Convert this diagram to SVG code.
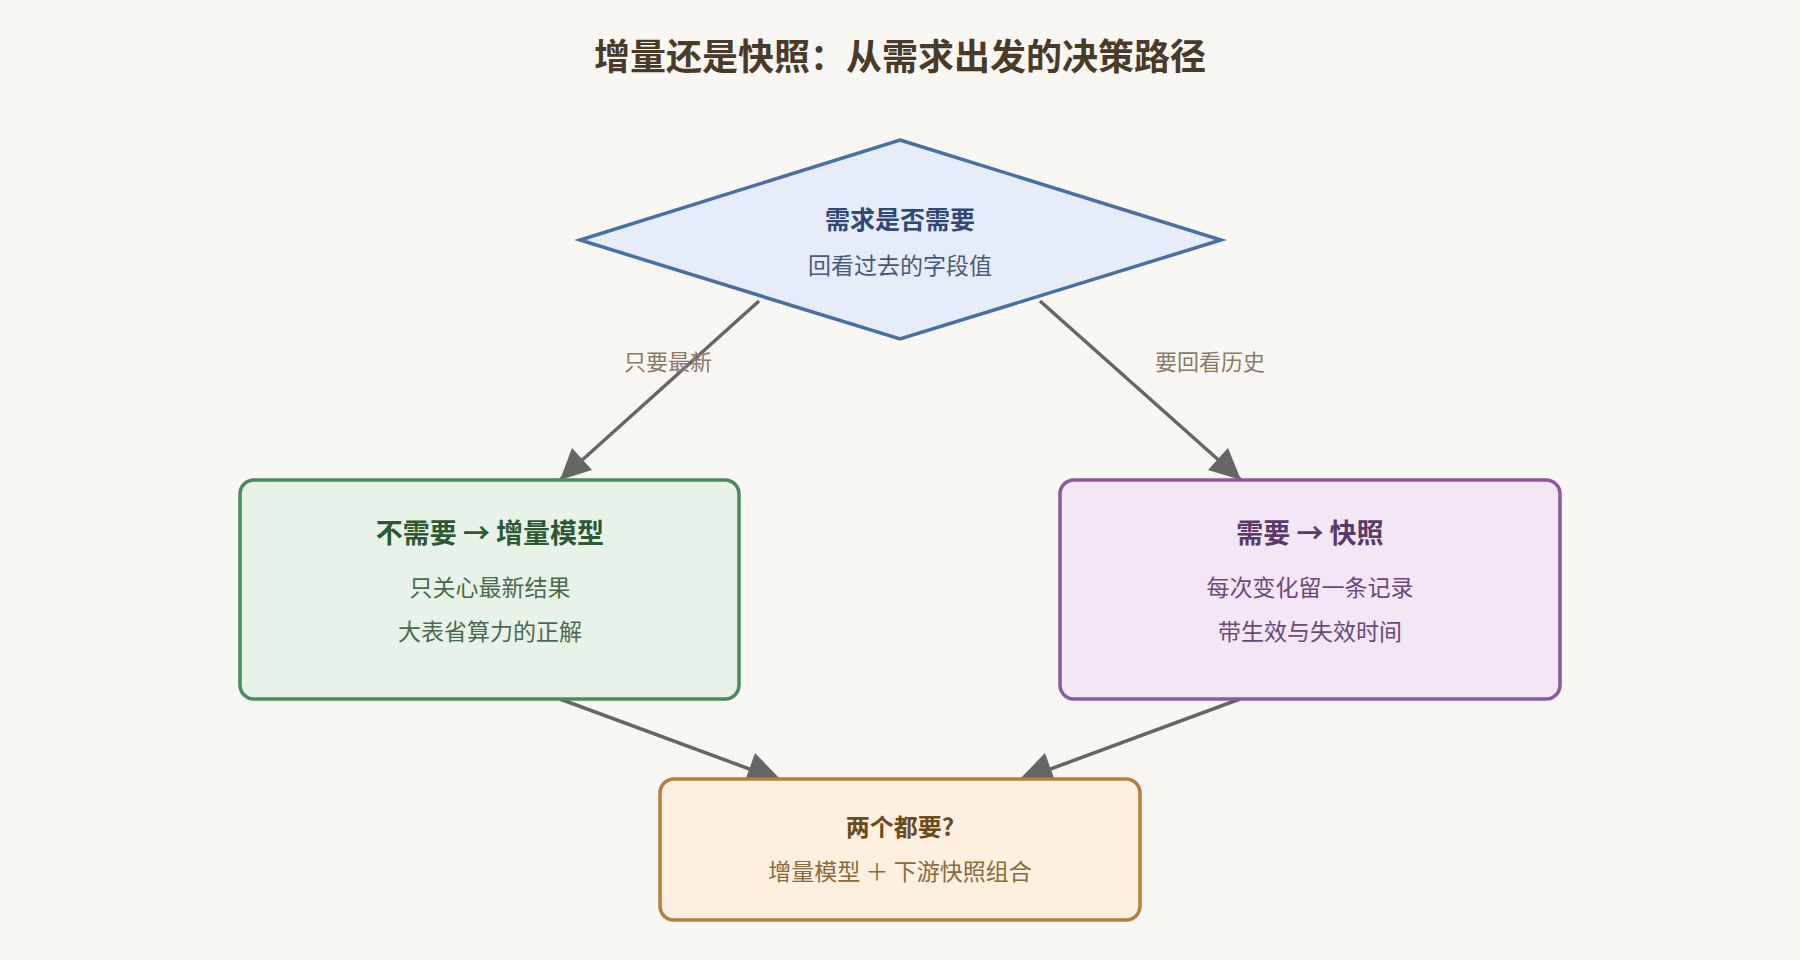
<svg xmlns="http://www.w3.org/2000/svg" width="1800" height="960" viewBox="0 0 1800 960">
<defs>
<style>
text{font-family:"Noto Sans CJK SC","Noto Sans",sans-serif;text-anchor:middle}
.t{font-size:36px;font-weight:bold;fill:#4a3a28}
.h{font-size:27px;font-weight:bold}
.s{font-size:23px}
.lbl{font-size:22px;fill:#8a7a68}
.c{stroke:#666;stroke-width:3.5;fill:none;marker-end:url(#ah)}
</style>
<marker id="ah" viewBox="0 0 10 10" refX="9" refY="5" markerWidth="11" markerHeight="11" markerUnits="userSpaceOnUse" orient="auto"><path d="M0,0 L10,5 L0,10 z" fill="#666"/></marker>
<marker id="ah" viewBox="0 0 10 10" refX="9" refY="5" markerWidth="11" markerHeight="11" orient="auto"><path d="M0,0 L10,5 L0,10 z" fill="#666"/></marker>
</defs>
<rect width="1800" height="960" fill="#f9f7f3"/>
<text class="t" x="900" y="70">增量还是快照：从需求出发的决策路径</text>
<g id="connectors">
<line class="c" x1="759" y1="301" x2="560" y2="480" style="marker-end:none"/>
<path d="M560,480 L572,448 L592,470 z" fill="#666"/>
<line class="c" x1="1040" y1="301" x2="1241" y2="480" style="marker-end:none"/>
<path d="M1241,480 L1208,470 L1228,448 z" fill="#666"/>
<line class="c" x1="560" y1="699" x2="782" y2="781" style="marker-end:none"/>
<path d="M782,781 L745,781 L755,753 z" fill="#666"/>
<line class="c" x1="1240" y1="699" x2="1018" y2="781" style="marker-end:none"/>
<path d="M1018,781 L1045,753 L1055,781 z" fill="#666"/>
<text class="lbl" x="668" y="370">只要最新</text>
<text class="lbl" x="1210" y="370">要回看历史</text>
</g>
<g id="decision">
<polygon points="900,140 1221,240 900,339 580,240" fill="#e6edf8" stroke="#4a6fa5" stroke-width="3.5"/>
<text class="h" x="900" y="229" style="font-size:25px;fill:#2f4a78">需求是否需要</text>
<text class="s" x="900" y="274" style="fill:#4a5a78">回看过去的字段值</text>
</g>
<g id="incremental">
<rect x="240" y="480" width="499" height="219" rx="14" fill="#e8f2e9" stroke="#4a8a5c" stroke-width="3.5"/>
<text class="h" x="490" y="543" style="fill:#2d5a35">不需要 → 增量模型</text>
<text class="s" x="490" y="596" style="fill:#4a6a50">只关心最新结果</text>
<text class="s" x="490" y="640" style="fill:#4a6a50">大表省算力的正解</text>
</g>
<g id="snapshot">
<rect x="1060" y="480" width="500" height="219" rx="14" fill="#f3e6f5" stroke="#8a5a9e" stroke-width="3.5"/>
<text class="h" x="1310" y="543" style="fill:#5a3a6a">需要 → 快照</text>
<text class="s" x="1310" y="596" style="fill:#6a4a78">每次变化留一条记录</text>
<text class="s" x="1310" y="640" style="fill:#6a4a78">带生效与失效时间</text>
</g>
<g id="both">
<rect x="660" y="779" width="480" height="141" rx="14" fill="#fdf0e0" stroke="#b57d3e" stroke-width="3.5"/>
<text class="h" x="900" y="836" style="font-size:24px;fill:#6b4a20">两个都要?</text>
<text class="s" x="900" y="880" style="fill:#8a6a3a">增量模型 ＋ 下游快照组合</text>
</g>
</svg>
